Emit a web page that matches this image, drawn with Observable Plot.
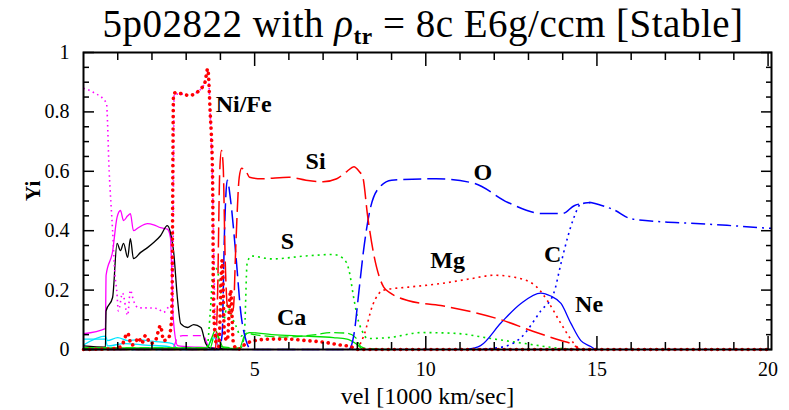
<!DOCTYPE html>
<html><head><meta charset="utf-8">
<script src="https://cdn.jsdelivr.net/npm/d3@7"></script>
<script src="https://cdn.jsdelivr.net/npm/@observablehq/plot@0.6"></script>
<style>
body{margin:0;background:#fff;width:789px;height:410px;overflow:hidden;position:relative;}
#title{position:absolute;left:0;top:0;width:789px;height:45px;box-sizing:border-box;padding-top:2px;padding-left:57px;font-family:"Liberation Serif",serif;font-size:39px;line-height:43px;text-align:center;letter-spacing:0.5px;white-space:nowrap;color:#000;z-index:2;}
#title sub{font-size:0.6em;vertical-align:-0.3em;line-height:0;font-weight:bold;}
#chart svg{display:block;}
</style></head>
<body>
<div id="chart"></div>
<div id="title">5p02822 with <i>ρ</i><sub>tr</sub> = 8c E6g/ccm [Stable]</div>
<script>
// ---- data ----
const niX = [0, 0.9, 1.1, 1.29, 1.4, 1.5, 1.61, 1.7, 1.81, 1.96, 2.1, 2.25, 2.34, 2.49, 2.58, 2.63, 2.7, 2.9, 3.1, 3.3, 3.45, 3.55, 3.63, 3.7, 3.77, 3.8, 3.88, 3.95, 4.05, 4.12, 4.2, 4.3, 4.38, 4.5, 4.75, 5.0, 5.5, 6.0, 6.5, 7.0, 7.5, 7.8, 8.0, 20.1];
const niY = [0, 0.003, 0.01, 0.055, 0.015, 0.02, 0.04, 0.02, 0.047, 0.02, 0.03, 0.08, 0.03, 0.04, 0.11, 0.86, 0.865, 0.86, 0.855, 0.865, 0.88, 0.9, 0.945, 0.8, 0.59, 0.14, 0.02, 0.01, 0.3, 0.05, 0.03, 0.2, 0.02, 0, 0.02, 0.03, 0.035, 0.035, 0.03, 0.025, 0.015, 0.01, 0, 0];

const feX = [0, 0.3, 0.67, 0.75, 0.85, 0.92, 0.97, 1.02, 1.14, 1.29, 1.37, 1.46, 1.61, 1.87, 2.16, 2.34, 2.54, 2.6, 2.65, 2.9, 3.1, 3.3, 3.45, 3.55, 3.63, 3.7, 3.77, 3.85, 3.95, 20.1];
const feY = [0.88, 0.865, 0.83, 0.6, 0.4, 0.25, 0.2, 0.13, 0.19, 0.115, 0.2, 0.165, 0.14, 0.14, 0.138, 0.125, 0.148, 0.12, 0.86, 0.86, 0.855, 0.865, 0.88, 0.9, 0.94, 0.8, 0.55, 0.1, 0, 0];

const magX = [0, 0.64, 0.66, 0.85, 0.98, 1.08, 1.17, 1.29, 1.37, 1.46, 1.6, 1.87, 2.05, 2.25, 2.45, 2.54, 2.62, 2.75, 3.0, 3.8, 4.0];
const magY = [0.053, 0.07, 0.25, 0.33, 0.445, 0.468, 0.434, 0.45, 0.457, 0.40, 0.41, 0.424, 0.42, 0.41, 0.405, 0.377, 0.108, 0.013, 0.01, 0.005, 0];

const magDashX = [0, 2.6, 2.75, 2.9, 3.5, 3.65, 3.8];
const magDashY = [0.003, 0.003, 0.04, 0.047, 0.047, 0.01, 0];

const blkX = [0, 0.64, 0.66, 0.85, 0.98, 1.08, 1.17, 1.29, 1.37, 1.46, 1.67, 1.87, 2.05, 2.25, 2.45, 2.54, 2.63, 2.75, 2.84, 3.04, 3.22, 3.43, 3.57, 3.7, 4.5];
const blkY = [0.012, 0.008, 0.13, 0.175, 0.357, 0.333, 0.357, 0.31, 0.373, 0.306, 0.327, 0.343, 0.36, 0.383, 0.417, 0.394, 0.333, 0.165, 0.087, 0.074, 0.084, 0.074, 0.02, 0.005, 0];

const cyan1X = [0, 0.64, 0.7, 1.0, 1.3, 1.6, 2.0, 2.3, 2.6, 2.75, 3.6, 3.72, 3.82, 3.95, 4.1];
const cyan1Y = [0.015, 0.045, 0.03, 0.04, 0.03, 0.033, 0.028, 0.025, 0.02, 0.003, 0.003, 0.03, 0.04, 0.01, 0];
const cyan2X = [0, 0.64, 0.7, 1.2, 1.8, 2.5, 2.7];
const cyan2Y = [0.035, 0.035, 0.012, 0.02, 0.015, 0.01, 0];

const sX = [0, 3.6, 3.7, 3.8, 3.9, 4.0, 4.1, 4.2, 4.3, 4.45, 4.6, 4.7, 4.78, 4.9, 5.5, 6.5, 7.3, 7.6, 7.75, 7.9, 8.0, 8.15, 8.3, 8.9, 9.9, 10.9, 11.9, 12.9, 14.0, 14.5];
const sY = [0, 0, 0.12, 0.28, 0.27, 0.2, 0.1, 0.15, 0.12, 0.08, 0.045, 0.06, 0.29, 0.315, 0.305, 0.315, 0.32, 0.305, 0.27, 0.17, 0.11, 0.06, 0.037, 0.04, 0.057, 0.054, 0.037, 0.02, 0.003, 0];

const caX = [0, 3.7, 3.8, 3.9, 4.0, 4.6, 4.75, 5.0, 5.8, 6.8, 7.2, 7.7, 7.95, 8.1, 8.3, 9.0];
const caY = [0.005, 0.005, 0.04, 0.05, 0.01, 0.005, 0.055, 0.05, 0.042, 0.05, 0.057, 0.055, 0.04, 0.01, 0.003, 0];

const arX = [0, 3.6, 3.75, 3.85, 3.95, 4.1, 4.55, 4.7, 4.85, 5.5, 6.5, 7.3, 7.7, 7.95, 8.15];
const arY = [0.005, 0.005, 0.04, 0.065, 0.04, 0.005, 0.003, 0.045, 0.057, 0.05, 0.045, 0.04, 0.035, 0.02, 0];

const siX = [0, 3.85, 3.92, 3.98, 4.03, 4.08, 4.14, 4.2, 4.3, 4.38, 4.45, 4.55, 4.62, 4.75, 4.85, 5.2, 6.0, 6.5, 7.0, 7.4, 7.7, 7.9, 8.05, 8.16, 8.3, 8.48, 8.77, 8.97, 9.47, 10.44, 11.4, 12.2, 13.07, 13.95, 14.24, 14.5];
const siY = [0, 0, 0.2, 0.6, 0.67, 0.62, 0.3, 0.15, 0.12, 0.14, 0.35, 0.58, 0.61, 0.6, 0.58, 0.575, 0.58, 0.57, 0.565, 0.575, 0.6, 0.615, 0.6, 0.58, 0.45, 0.32, 0.21, 0.19, 0.165, 0.148, 0.125, 0.1, 0.064, 0.03, 0.02, 0];

const oX = [0, 3.95, 4.05, 4.12, 4.2, 4.3, 4.45, 4.6, 4.75, 4.9, 7.75, 7.9, 8.05, 8.2, 8.39, 8.68, 9.0, 10.3, 11.4, 12.4, 13.4, 14.0, 14.35, 14.82];
const oY = [0, 0, 0.05, 0.4, 0.57, 0.5, 0.32, 0.12, 0.03, 0, 0, 0.05, 0.2, 0.35, 0.48, 0.55, 0.57, 0.575, 0.56, 0.495, 0.458, 0.458, 0.485, 0.495];

const outerX = [14.82, 15.5, 16.0, 16.9, 17.75, 18.8, 19.8, 20.1];
const outerY = [0.495, 0.47, 0.44, 0.43, 0.425, 0.418, 0.41, 0.408];

const cX = [11.5, 12.3, 12.78, 13.36, 13.74, 13.95, 14.15, 14.33, 14.53, 14.82];
const cY = [0, 0.01, 0.04, 0.13, 0.19, 0.29, 0.38, 0.445, 0.49, 0.495];

const neX = [11.2, 11.6, 12.2, 12.78, 13.36, 13.65, 13.95, 14.24, 14.53, 14.82, 14.95];
const neY = [0, 0.013, 0.09, 0.155, 0.19, 0.18, 0.155, 0.088, 0.03, 0.01, 0];

const mgX = [8.0, 8.2, 8.45, 8.77, 9.5, 10.44, 11.3, 12.0, 12.6, 13.2, 13.55, 13.95, 14.33, 14.5];
const mgY = [0, 0.05, 0.15, 0.2, 0.21, 0.222, 0.238, 0.25, 0.243, 0.215, 0.165, 0.087, 0.02, 0];

const labelNames = ["Ni/Fe", "Si", "S", "Ca", "O", "Mg", "C", "Ne"];
const labelX = [4.68, 6.78, 5.96, 6.08, 11.67, 10.64, 13.71, 14.77];
const labelY = [0.798, 0.609, 0.34, 0.084, 0.572, 0.273, 0.296, 0.125];

const xMajor = [5, 10, 15, 20];
const xMinor = [1, 2, 3, 4, 6, 7, 8, 9, 11, 12, 13, 14, 16, 17, 18, 19];
const xTickLabels = ["5", "10", "15", "20"];
const yMajor = [0, 0.2, 0.4, 0.6, 0.8, 1];
const yMinor = [0.05, 0.1, 0.15, 0.25, 0.3, 0.35, 0.45, 0.5, 0.55, 0.65, 0.7, 0.75, 0.85, 0.9, 0.95];
const yTickLabels = ["0", "0.2", "0.4", "0.6", "0.8", "1"];

// ---- styles ----
const RED = "#ff0000", BLUE = "#0000ff", GREEN = "#00e000", MAG = "#ff00ff", CYAN = "#00e5ff";
const series = [
  {x: cyan2X, y: cyan2Y, stroke: CYAN, w: 1.3, dash: null},
  {x: cyan1X, y: cyan1Y, stroke: CYAN, w: 1.3, dash: null},
  {x: magDashX, y: magDashY, stroke: MAG, w: 1.3, dash: "8,5"},
  {x: magX, y: magY, stroke: MAG, w: 1.3, dash: null},
  {x: blkX, y: blkY, stroke: "#000", w: 1.3, dash: null},
  {x: arX, y: arY, stroke: GREEN, w: 1.3, dash: null},
  {x: caX, y: caY, stroke: GREEN, w: 1.3, dash: "10,4"},
  {x: sX, y: sY, stroke: GREEN, w: 1.6, dash: "2,4"},
  {x: mgX, y: mgY, stroke: RED, w: 1.6, dash: "2,4"},
  {x: neX, y: neY, stroke: BLUE, w: 1.3, dash: null},
  {x: cX, y: cY, stroke: BLUE, w: 1.6, dash: "2,4"},
  {x: oX, y: oY, stroke: BLUE, w: 1.5, dash: "18,6"},
  {x: outerX, y: outerY, stroke: BLUE, w: 1.5, dash: "14,5,2,5"},
  {x: siX, y: siY, stroke: RED, w: 1.5, dash: "20,6"},
  {x: feX, y: feY, stroke: MAG, w: 1.6, dash: "1.5,3.5"},
  {x: niX, y: niY, stroke: RED, w: 3.6, dash: "0.1,6", cap: "round"}
];

const lineMarks = series.map(s => Plot.line(s.x.map((v, i) => ({vx: v, vy: s.y[i]})), {
  x: "vx", y: "vy", stroke: s.stroke, strokeWidth: s.w,
  strokeDasharray: s.dash, strokeLinecap: s.cap || "butt", curve: "monotone-x"
}));

const labels = labelNames.map((t, i) => ({t, lx: labelX[i], ly: labelY[i]}));

const chart = Plot.plot({
  width: 789, height: 410,
  marginLeft: 83, marginRight: 18, marginTop: 52, marginBottom: 61,
  style: {fontFamily: "'Liberation Serif', serif", fontSize: "20px", color: "#000", background: "#fff"},
  x: {domain: [0, 20.1], label: null},
  y: {domain: [0, 1], label: null},
  marks: [
    ...lineMarks,
    Plot.text(labels, {x: "lx", y: "ly", text: "t", fontSize: 24, fontWeight: "bold", fontFamily: "'Liberation Serif', serif", lineAnchor: "bottom", fill: "#000"}),
    Plot.frame({stroke: "#000", strokeWidth: 2}),
    Plot.axisX({ticks: xMajor, anchor: "bottom", tickSize: -13, fill: "none", label: null, strokeWidth: 1.5}),
    Plot.axisX({ticks: xMinor, anchor: "bottom", tickSize: -7, fill: "none", label: null, strokeWidth: 1.5}),
    Plot.axisX({ticks: xMajor, anchor: "top", tickSize: -13, fill: "none", label: null, strokeWidth: 1.5}),
    Plot.axisX({ticks: xMinor, anchor: "top", tickSize: -7, fill: "none", label: null, strokeWidth: 1.5}),
    Plot.axisY({ticks: yMajor, anchor: "left", tickSize: -11, fill: "none", label: null, strokeWidth: 1.5}),
    Plot.axisY({ticks: yMinor, anchor: "left", tickSize: -6, fill: "none", label: null, strokeWidth: 1.5}),
    Plot.axisY({ticks: yMajor, anchor: "right", tickSize: -11, fill: "none", label: null, strokeWidth: 1.5}),
    Plot.axisY({ticks: yMinor, anchor: "right", tickSize: -6, fill: "none", label: null, strokeWidth: 1.5}),
    Plot.axisX({ticks: xMajor, anchor: "bottom", tickSize: 0, tickPadding: 12, label: null, fontSize: 20,
      tickFormat: d => xTickLabels[xMajor.indexOf(d)]}),
    Plot.axisY({ticks: yMajor, anchor: "left", tickSize: 0, tickPadding: 14, label: null, fontSize: 20,
      tickFormat: d => yTickLabels[yMajor.indexOf(d)]}),
    Plot.text(["vel [1000 km/sec]"], {text: d => d, frameAnchor: "bottom", dy: 54, lineAnchor: "bottom", fontSize: 24, fill: "#000"}),
    Plot.text(["Yi"], {text: d => d, frameAnchor: "left", dx: -50, rotate: -90, fontSize: 21, fontWeight: "bold", fill: "#000"})
  ]
});
document.getElementById("chart").appendChild(chart);
</script>
</body></html>
